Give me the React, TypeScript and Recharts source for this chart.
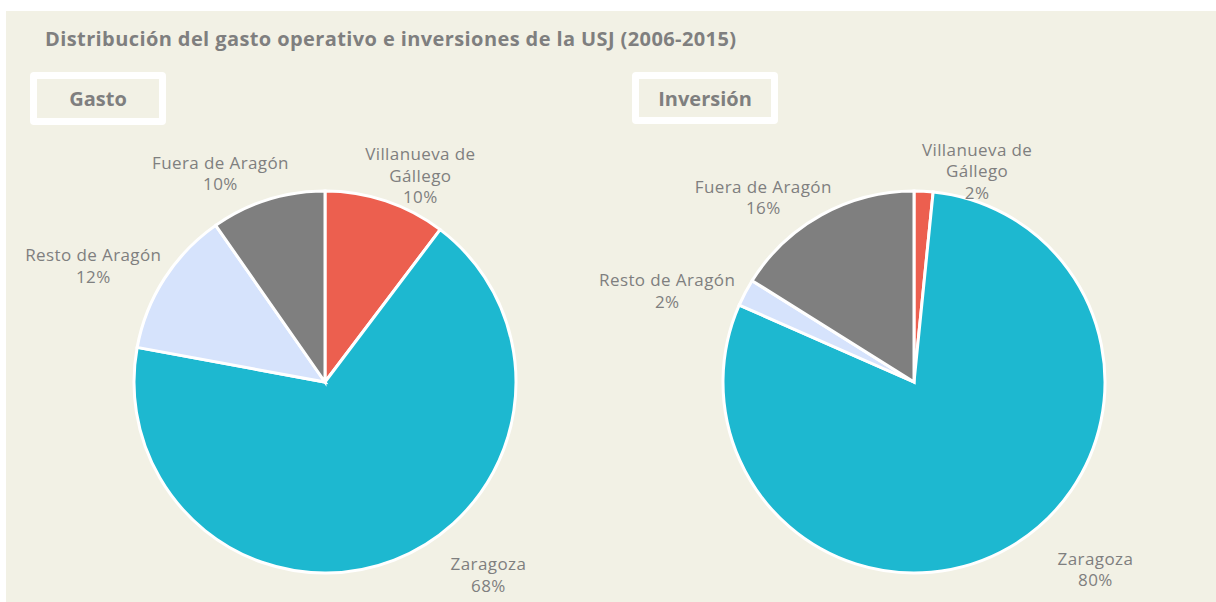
import React from 'react';
import { PieChart, Pie, Cell } from 'recharts';

// shares (percent of each total)
const categories = ['Villanueva de Gállego', 'Zaragoza', 'Resto de Aragón', 'Fuera de Aragón'];
const gastoValues = [10.3, 67.6, 12.4, 9.7];
const inversionValues = [1.6, 80.0, 2.3, 16.1];
const sliceColors = ['#ec5f4f', '#1db8d0', '#d6e3fc', '#7f7f7f'];

// label placement: distance from centre and angle shift from the slice middle
const gastoLabelPlace = [
  { r: 227, da: -6.3 },
  { r: 253, da: 19 },
  { r: 259, da: 6.2 },
  { r: 233, da: 9.2 },
];
const inversionLabelPlace = [
  { r: 220, da: -13.8 },
  { r: 261, da: 13.8 },
  { r: 263, da: 7.7 },
  { r: 238, da: 10.3 },
];

const W = 1210;
const H = 591;
const RADIUS = 191;
const FONT = '"Open Sans", "Noto Sans", sans-serif';
const TEXT = '#7f7f7f';

const gastoData = categories.map((name, i) => ({ name, value: gastoValues[i] }));
const inversionData = categories.map((name, i) => ({ name, value: inversionValues[i] }));

function wrap(text: string, max = 15) {
  const lines: string[] = [];
  let cur = '';
  text.split(' ').forEach((w) => {
    const next = cur ? cur + ' ' + w : w;
    if (next.length > max && cur) {
      lines.push(cur);
      cur = w;
    } else {
      cur = next;
    }
  });
  if (cur) lines.push(cur);
  return lines;
}

const makeLabel = (place: { r: number; da: number }[]) => (props: any) => {
  const { cx, cy, midAngle, percent, name, index } = props;
  const p = place[index];
  const a = ((midAngle + p.da) * Math.PI) / 180;
  const x = cx + p.r * Math.cos(a);
  const y = cy - p.r * Math.sin(a);
  const lines = [...wrap(name), `${Math.round(percent * 100)}%`];
  const lh = 21.5;
  const top = y - ((lines.length - 1) * lh) / 2;
  return (
    <text
      x={x}
      y={top}
      textAnchor="middle"
      fill={TEXT}
      fontSize={17}
      fontFamily={FONT}
      style={{ letterSpacing: '0.4px' }}
    >
      {lines.map((l, i) => (
        <tspan key={i} x={x} y={top + i * lh} dy="0.35em">
          {l}
        </tspan>
      ))}
    </text>
  );
};

const boxStyle: React.CSSProperties = {
  position: 'absolute',
  top: 61,
  height: 53,
  boxSizing: 'border-box',
  border: '7px solid #ffffff',
  borderRadius: 4,
  display: 'flex',
  alignItems: 'center',
  justifyContent: 'center',
  fontFamily: FONT,
  fontWeight: 700,
  fontSize: 20,
  color: TEXT,
};

export default function App() {
  return (
    <div
      style={{
        position: 'absolute',
        left: 6,
        top: 11,
        width: W,
        height: H,
        background: '#f2f1e5',
        overflow: 'hidden',
      }}
    >
      <div
        style={{
          position: 'absolute',
          left: 39,
          top: 16,
          lineHeight: '24px',
          fontFamily: FONT,
          fontWeight: 700,
          fontSize: 20,
          letterSpacing: '0.4px',
          color: TEXT,
          whiteSpace: 'nowrap',
        }}
      >
        Distribución del gasto operativo e inversiones de la USJ (2006-2015)
      </div>
      <div style={{ ...boxStyle, left: 24, width: 136 }}>Gasto</div>
      <div style={{ ...boxStyle, left: 626, width: 146, height: 52 }}>Inversión</div>

      <PieChart width={W} height={H} margin={{ top: 0, right: 0, bottom: 0, left: 0 }}>
        <Pie
          data={gastoData}
          dataKey="value"
          nameKey="name"
          cx={319}
          cy={371}
          outerRadius={RADIUS}
          startAngle={90}
          endAngle={-270}
          stroke="#ffffff"
          strokeWidth={3}
          label={makeLabel(gastoLabelPlace)}
          labelLine={false}
          isAnimationActive={false}
        >
          {gastoData.map((d, i) => (
            <Cell key={d.name} fill={sliceColors[i]} />
          ))}
        </Pie>
        <Pie
          data={inversionData}
          dataKey="value"
          nameKey="name"
          cx={908}
          cy={371}
          outerRadius={RADIUS}
          startAngle={90}
          endAngle={-270}
          stroke="#ffffff"
          strokeWidth={3}
          label={makeLabel(inversionLabelPlace)}
          labelLine={false}
          isAnimationActive={false}
        >
          {inversionData.map((d, i) => (
            <Cell key={d.name} fill={sliceColors[i]} />
          ))}
        </Pie>
      </PieChart>
    </div>
  );
}
